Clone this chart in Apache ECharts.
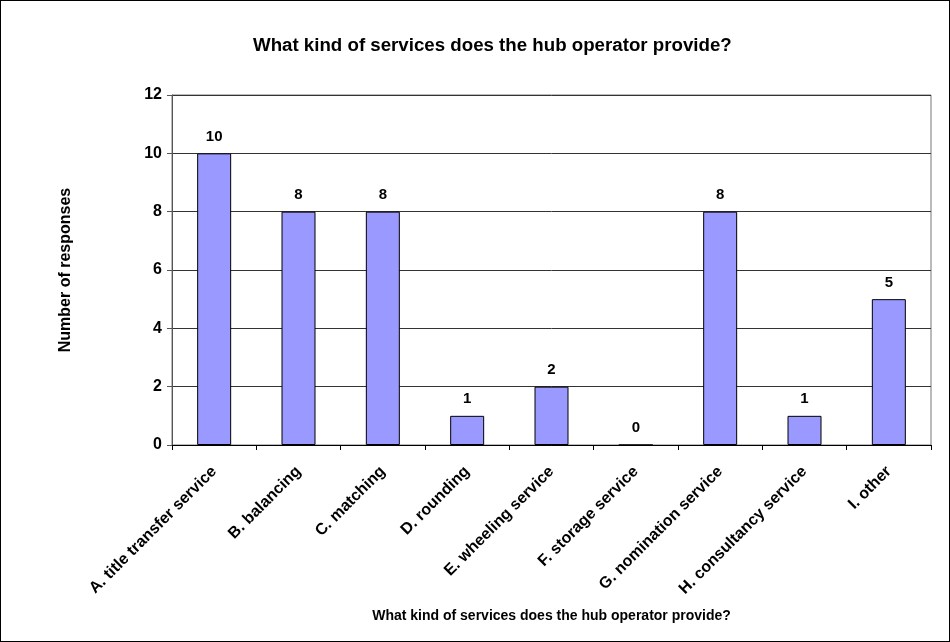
<!DOCTYPE html>
<html><head><meta charset="utf-8">
<script src="https://cdn.jsdelivr.net/npm/echarts@6/dist/echarts.min.js"></script>
<style>html,body{margin:0;padding:0;background:#fff}#c{width:950px;height:642px;box-sizing:border-box;border:1px solid #000}</style>
</head><body><div id="c"></div>
<script>
const categories = ['A. title transfer service','B. balancing','C. matching','D. rounding','E. wheeling service','F. storage service','G. nomination service','H. consultancy service','I. other'];
const values = [10, 8, 8, 1, 2, 0, 8, 1, 5];
const yTicks = [0, 2, 4, 6, 8, 10, 12];
const chart = echarts.init(document.getElementById('c'));
const F = 'Liberation Sans, Arial, sans-serif';
chart.setOption({
  animation: false,
  title: { text: 'What kind of services does the hub operator provide?', left: 247, top: 30,
    textStyle: { fontFamily: F, fontSize: 18.7, fontWeight: 'bold', color: '#000' } },
  grid: { left: 171, right: 18, top: 94, bottom: 196, show: true, borderColor: '#777', borderWidth: 1, backgroundColor: 'transparent' },
  xAxis: {
    type: 'category', data: categories,
    name: 'What kind of services does the hub operator provide?', nameLocation: 'middle', nameGap: 164,
    nameTextStyle: { fontFamily: F, fontSize: 14, fontWeight: 'bold', color: '#000', verticalAlign: 'top' },
    axisLine: { lineStyle: { color: '#000' } },
    axisTick: { show: true, length: 5, lineStyle: { color: '#000' } },
    axisLabel: { rotate: 45, interval: 0, fontFamily: F, fontSize: 16, fontWeight: 'bold', color: '#000', margin: 24 }
  },
  yAxis: {
    type: 'value', min: yTicks[0], max: yTicks[yTicks.length - 1], interval: yTicks[1] - yTicks[0],
    name: 'Number of responses', nameLocation: 'middle', nameGap: 98, nameRotate: 90,
    nameTextStyle: { fontFamily: F, fontSize: 16, fontWeight: 'bold', color: '#000' },
    axisLine: { show: true, lineStyle: { color: '#555' } },
    axisTick: { show: true, length: 5, lineStyle: { color: '#555' } },
    axisLabel: { fontFamily: F, fontSize: 16, fontWeight: 'bold', color: '#000', margin: 10 },
    splitLine: { lineStyle: { color: '#333', width: 1 } }
  },
  series: [{
    type: 'bar', data: values, barWidth: 34,
    itemStyle: { color: '#9999FF', borderColor: '#000', borderWidth: 1 },
    label: { show: true, position: 'top', distance: 9, fontFamily: F, fontSize: 15, fontWeight: 'bold', color: '#000' }
  }]
});
</script></body></html>
